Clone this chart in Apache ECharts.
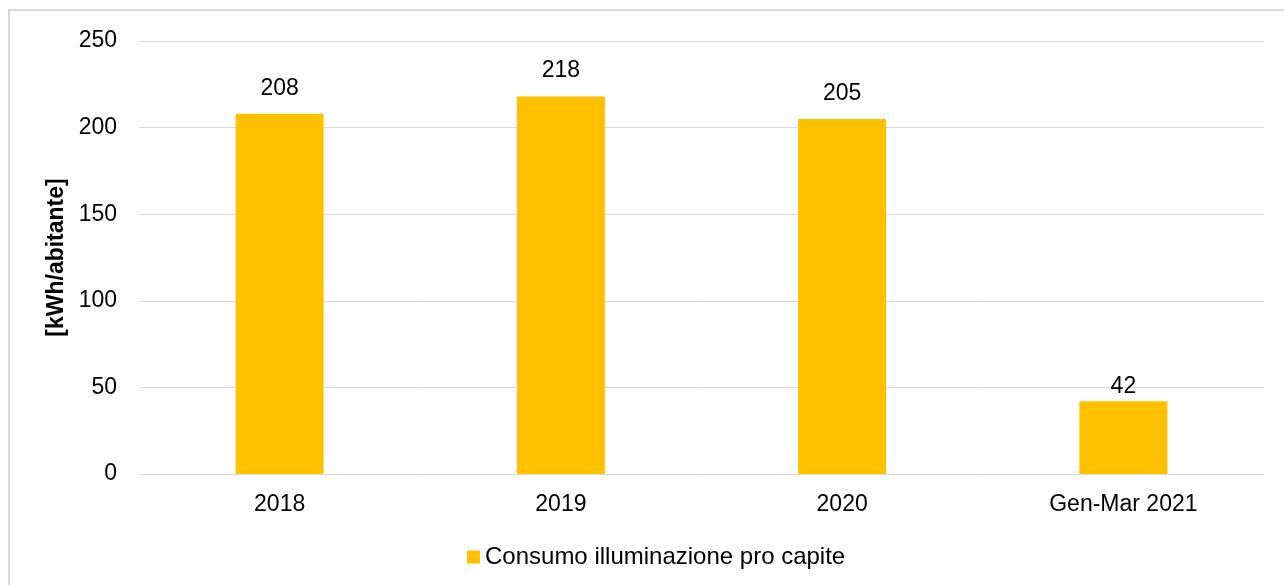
<!DOCTYPE html>
<html>
<head>
<meta charset="utf-8">
<script src="https://cdn.jsdelivr.net/npm/echarts@6/dist/echarts.min.js"></script>
<style>
html,body{margin:0;padding:0;background:#fff;}
#chart{width:1284px;height:585px;}
</style>
</head>
<body>
<div id="chart"></div>
<script>
const categories = ['2018', '2019', '2020', 'Gen-Mar 2021'];
const values = [208, 218, 205, 42];
const seriesName = 'Consumo illuminazione pro capite';
const yAxisTitle = '[kWh/abitante]';
const labelDistances = [14, 14, 14, 3];

const chart = echarts.init(document.getElementById('chart'));
const font = 'Liberation Sans, Arial, sans-serif';
chart.setOption({
  animation: false,
  textStyle: { fontFamily: font },
  graphic: [{
    type: 'rect',
    shape: { x: 9, y: 10, width: 1400, height: 700 },
    style: { fill: 'none', stroke: '#d9d9d9', lineWidth: 2 },
    silent: true, z: -1
  }],
  grid: { left: 139, right: 20, top: 41, bottom: 111 },
  legend: {
    data: [seriesName],
    left: 462, top: 540,
    icon: 'rect', itemWidth: 13, itemHeight: 13, itemGap: 5,
    textStyle: { fontSize: 24, color: '#000', fontFamily: font }
  },
  xAxis: {
    type: 'category',
    data: categories,
    axisLine: { show: false },
    axisTick: { show: false },
    axisLabel: { fontSize: 23, color: '#000', margin: 19, fontFamily: font }
  },
  yAxis: {
    type: 'value',
    min: 0, max: 250, interval: 50,
    name: yAxisTitle,
    nameLocation: 'middle',
    nameGap: 68,
    nameTextStyle: { fontSize: 23, fontWeight: 'bold', color: '#000', fontFamily: font },
    axisLine: { show: false },
    axisTick: { show: false },
    axisLabel: { fontSize: 23, color: '#000', margin: 22, fontFamily: font },
    splitLine: { lineStyle: { color: '#d9d9d9', width: 1 } }
  },
  series: [{
    type: 'bar',
    name: seriesName,
    data: values.map((v, i) => ({ value: v, label: { distance: labelDistances[i] } })),
    barWidth: 88,
    itemStyle: { color: '#ffc000' },
    label: { show: true, position: 'top', fontSize: 23, color: '#000', fontFamily: font }
  }]
});
</script>
</body>
</html>
